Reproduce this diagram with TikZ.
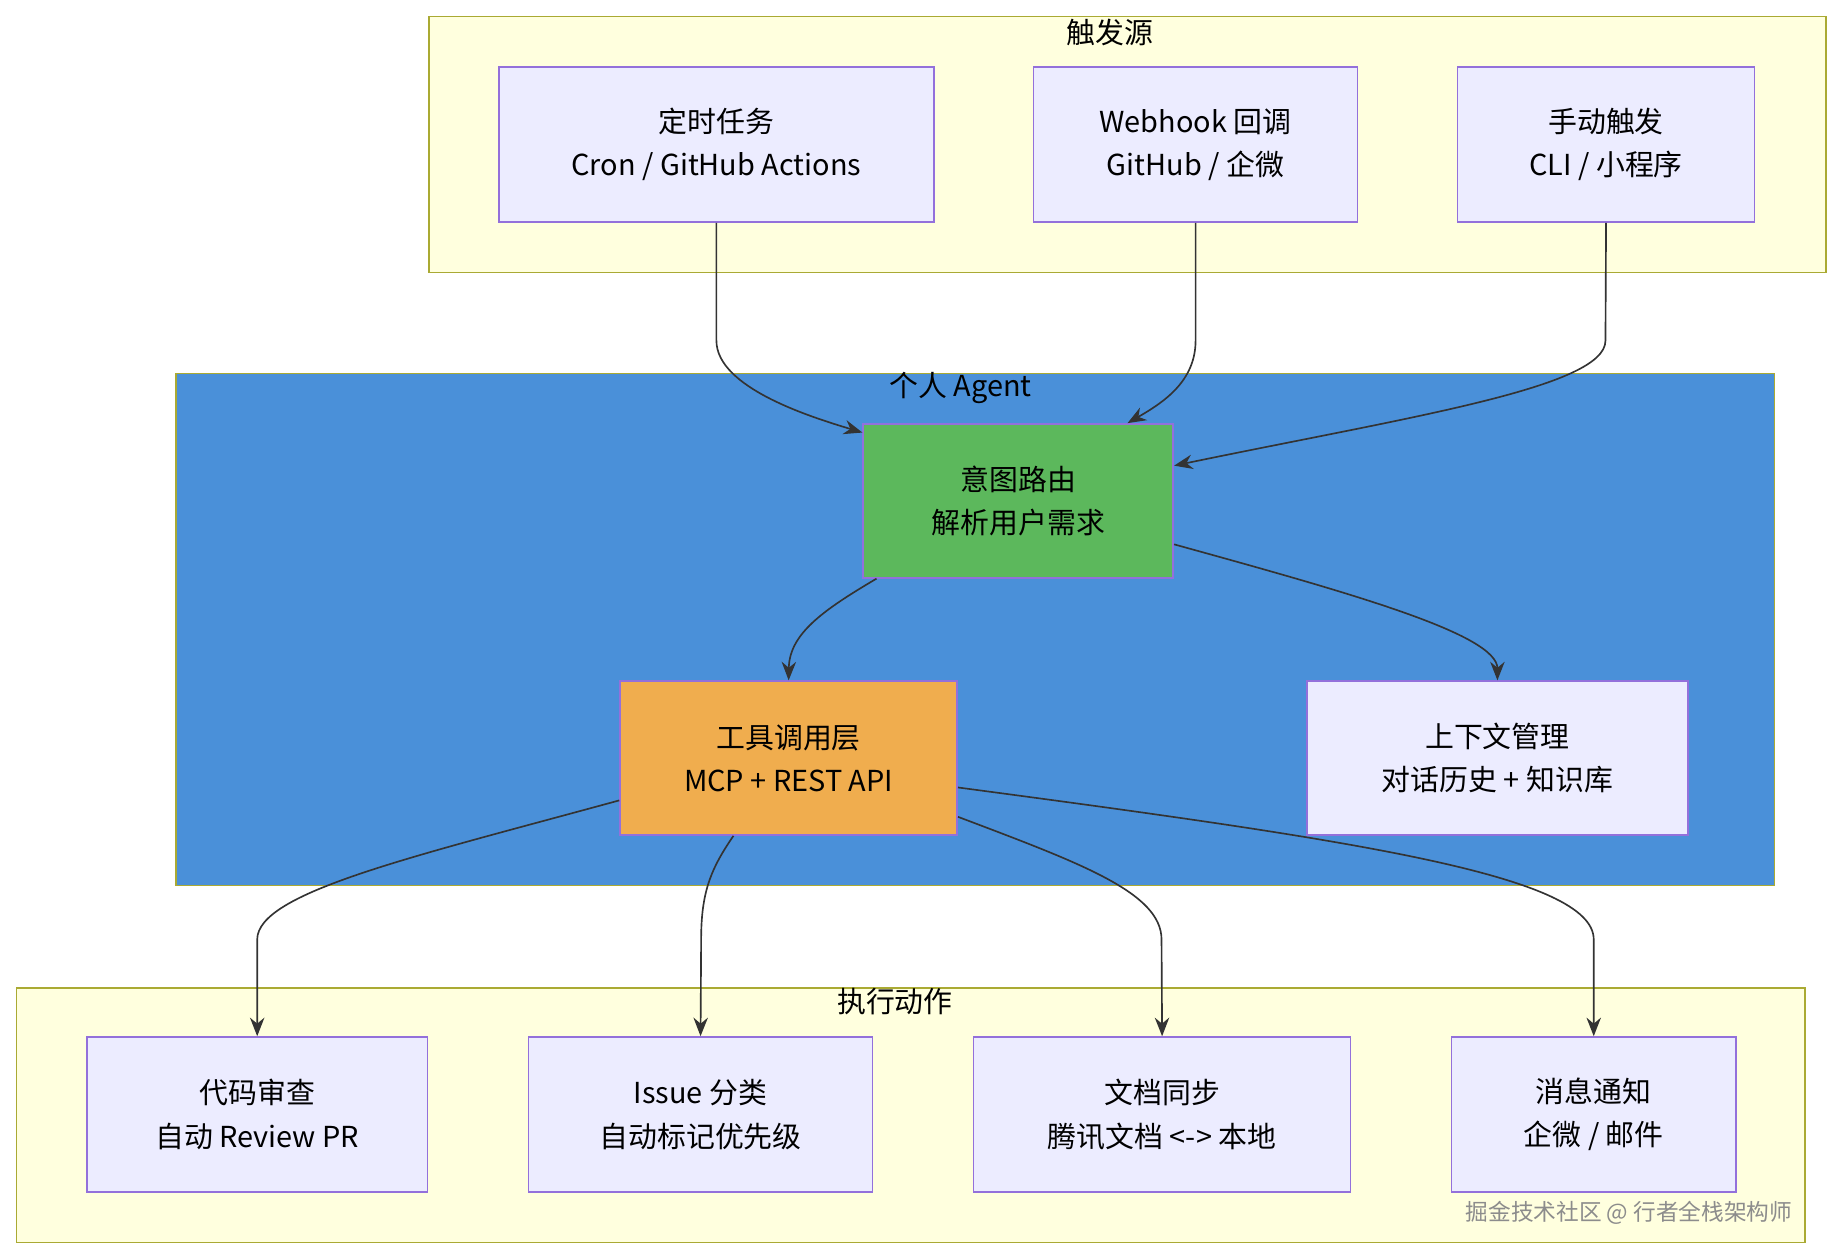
\documentclass[tikz,border=0pt]{standalone}
\usepackage{fontspec}
\setmainfont{Noto Sans CJK SC}
\usetikzlibrary{arrows.meta,calc}
\definecolor{grpfill}{HTML}{FFFFDE}
\definecolor{grpline}{HTML}{AAAA33}
\definecolor{nfill}{HTML}{ECECFF}
\definecolor{nline}{HTML}{9370DB}
\definecolor{agent}{HTML}{4A90D9}
\definecolor{green}{HTML}{5CB85C}
\definecolor{orange}{HTML}{F0AD4E}
\begin{document}
\begin{tikzpicture}[x=0.02cm,y=-0.02cm,
  box/.style={draw=nline,fill=nfill,line width=0.8pt,align=center,inner sep=0,font=\fontsize{14}{21}\selectfont},
  grp/.style={draw=grpline,fill=grpfill,line width=0.8pt},
  ttl/.style={font=\fontsize{14}{17}\selectfont},
  e/.style={draw=black!80,line width=0.8pt,-{Stealth[length=9pt,width=7pt]}}]
\useasboundingbox (0,0) rectangle (1565,1071);
\fill[white] (0,0) rectangle (1565,1071);
% groups
\draw[grp] (365,14) rectangle (1555,232);
\node[ttl] (gt) at (945,28) {触发源};
\draw[draw=grpline,fill=agent,line width=0.8pt] (150,318) rectangle (1511,754);
\node[ttl] (ga) at (818,330) {个人 Agent};
\draw[grp] (14,841) rectangle (1537,1058);
\node[ttl] (ge) at (762,853) {执行动作};
% nodes
\node[box,minimum width=370*0.02cm,minimum height=132*0.02cm] (t1) at (610,123) {定时任务\\Cron / GitHub Actions};
\node[box,minimum width=276*0.02cm,minimum height=132*0.02cm] (t2) at (1018,123) {Webhook 回调\\GitHub / 企微};
\node[box,minimum width=253*0.02cm,minimum height=132*0.02cm] (t3) at (1367.5,123) {手动触发\\CLI / 小程序};
\node[box,fill=green,minimum width=264*0.02cm,minimum height=131*0.02cm] (ir) at (867,426.5) {意图路由\\解析用户需求};
\node[box,fill=orange,minimum width=287*0.02cm,minimum height=131*0.02cm] (tool) at (671.5,645.5) {工具调用层\\MCP + REST API};
\node[box,minimum width=324*0.02cm,minimum height=131*0.02cm] (ctx) at (1275,645.5) {上下文管理\\对话历史 + 知识库};
\node[box,minimum width=290*0.02cm,minimum height=132*0.02cm] (a1) at (219,949) {代码审查\\自动 Review PR};
\node[box,minimum width=293*0.02cm,minimum height=132*0.02cm] (a2) at (596.5,949) {Issue 分类\\自动标记优先级};
\node[box,minimum width=321*0.02cm,minimum height=132*0.02cm] (a3) at (989.5,949) {文档同步\\腾讯文档 <-> 本地};
\node[box,minimum width=242*0.02cm,minimum height=132*0.02cm] (a4) at (1357,949) {消息通知\\企微 / 邮件};
\node[text=black!45,font=\fontsize{11}{13}\selectfont] (wm) at (1387,1033) {掘金技术社区 @ 行者全栈架构师};
% edges
\draw[e] (t1.south) -- (610,290) .. controls (610,330) and (690,355) .. ($(ir.north west)+(0,8)$);
\draw[e] (t2.south) -- (1018,290) .. controls (1018,325) and (990,343) .. ($(ir.north)+(93,0)$);
\draw[e] (t3.south) -- (1367,290) .. controls (1367,330) and (1200,355) .. ($(ir.east)+(0,-30)$);
\draw[e] ($(ir.south west)+(12,0)$) .. controls (700,520) and (672,540) .. ($(tool.north)+(0,0)$);
\draw[e] ($(ir.east)+(0,37)$) .. controls (1150,505) and (1275,540) .. ($(ctx.north)+(0,0)$);
\draw[e] ($(tool.west)+(0,36)$) .. controls (350,730) and (219,760) .. (219,800) -- (a1.north);
\draw[e] ($(tool.south)+(-47,0)$) .. controls (605,740) and (597,760) .. (597,800) -- (a2.north);
\draw[e] ($(tool.east)+(0,50)$) .. controls (920,735) and (989,760) .. (989,800) -- (a3.north);
\draw[e] ($(tool.east)+(0,25)$) .. controls (1150,715) and (1357,745) .. (1357,800) -- (a4.north);
\end{tikzpicture}
\end{document}
